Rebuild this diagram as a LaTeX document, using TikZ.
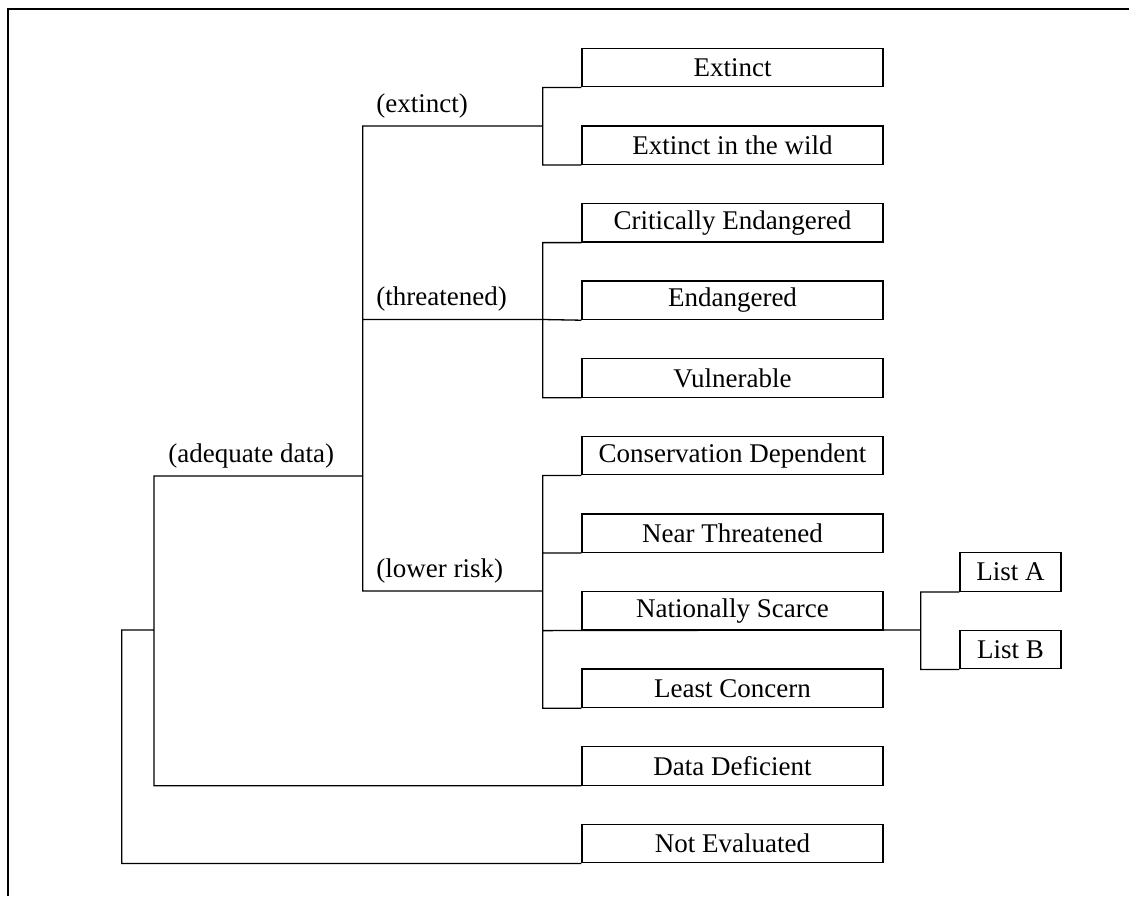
\documentclass[tikz,border=0pt]{standalone}
\usepackage{fontspec}
\setmainfont{Liberation Serif}
\usetikzlibrary{positioning}

\tikzset{
    catbox/.style={draw, line width=0.65pt, inner sep=0pt, minimum width=150.5pt, minimum height=19.25pt, font=\fontsize{13.5}{16}\selectfont},
    listbox/.style={catbox, minimum width=50.5pt},
    branch/.style={line width=0.65pt},
    lbl/.style={inner sep=0pt, anchor=base west, font=\fontsize{13.5}{16}\selectfont}
}

\begin{document}
\begin{tikzpicture}[x=0.5pt, y=-0.5pt]
    \useasboundingbox (0, 0) rectangle (1129, 896);
    \draw[line width=1pt] (7.5, 896) -- (7.5, 8.5) -- (1129, 8.5);

    % categories
    \node[catbox] (ex) at (732.5, 67.5) {Extinct};
    \node[catbox] (ew) at (732.5, 145.1) {Extinct in the wild};
    \node[catbox] (cr) at (732.5, 222.7) {Critically Endangered};
    \node[catbox] (en) at (732.5, 300.3) {Endangered};
    \node[catbox] (vu) at (732.5, 377.9) {Vulnerable};
    \node[catbox] (cd) at (732.5, 455.5) {Conservation Dependent};
    \node[catbox] (nt) at (732.5, 533.1) {Near Threatened};
    \node[catbox] (ns) at (732.5, 610.7) {Nationally Scarce};
    \node[catbox] (lc) at (732.5, 688.3) {Least Concern};
    \node[catbox] (dd) at (732.5, 765.9) {Data Deficient};
    \node[catbox] (ne) at (732.5, 843.5) {Not Evaluated};
    \node[listbox] (la) at (1010.5, 572) {List A};
    \node[listbox] (lb) at (1010.5, 649.5) {List B};

    % junctions
    \coordinate (jx) at (542.7, 126);
    \coordinate (jt) at (542.7, 319.5);
    \coordinate (jl) at (542.7, 591);
    \coordinate (jlist) at (920.7, 629.95);
    \coordinate (ka) at (362.7, 476);
    \coordinate (kd) at (154, 630);
    \coordinate (root) at (121.7, 630);

    \draw[branch]
    (ex.south west) -| (jx) |- (ew.south west)
    (cr.south west) -| (jt) |- (vu.south west)
    (jt) -- (en.south west)
    (cd.south west) -| (jl) |- (lc.south west)
    (nt.south west) -- (nt.south west -| jl)
    (jl |- ns.south west) -- (jlist)
    (la.south west) -| (jlist) |- (lb.south west)
    (jx) -| (ka)
    (jl) -| (ka)
    (jt) -- (jt -| ka)
    (ka) -| (kd) |- (dd.south west)
    (kd) -| (root) |- (ne.south west);

    \node[lbl] (lext) at (376, 112) {(extinct)};
    \node[lbl] (lthr) at (376, 305.5) {(threatened)};
    \node[lbl] (llow) at (376, 577) {(lower risk)};
    \node[lbl] (lade) at (168, 462) {(adequate data)};
\end{tikzpicture}
\end{document}
